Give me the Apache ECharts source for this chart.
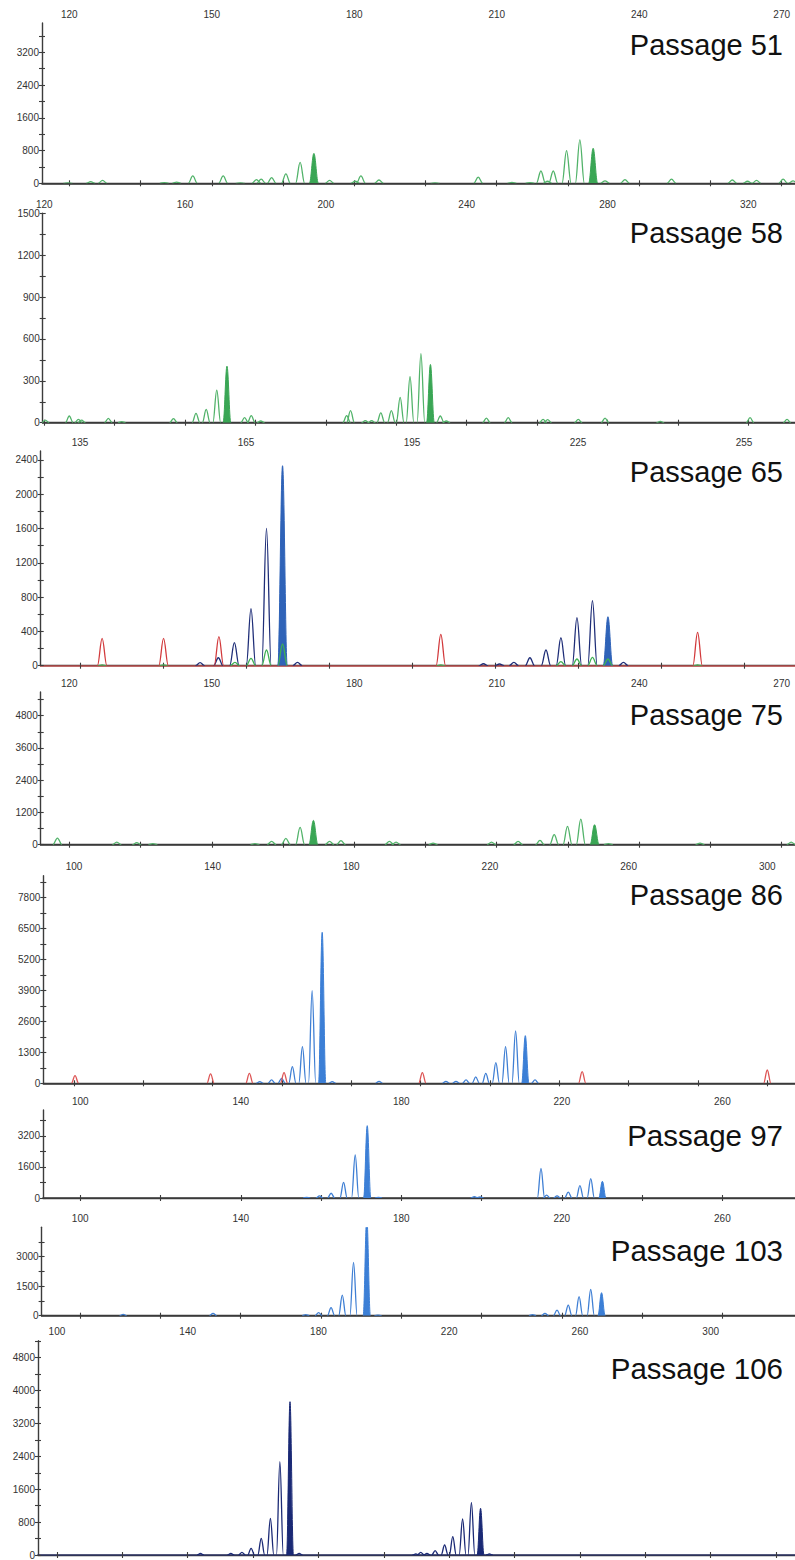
<!DOCTYPE html>
<html><head><meta charset="utf-8">
<script src="https://cdn.jsdelivr.net/npm/echarts@6/dist/echarts.min.js"></script>
<style>html,body{margin:0;padding:0;background:#fff}#c{width:795px;height:1560px}</style>
</head><body><div id="c"></div>
<script>
// ---------- DATA (fragment size in bp, peak height in RFU) ----------
const passageLabels = ['Passage 51','Passage 58','Passage 65','Passage 75','Passage 86','Passage 97','Passage 103','Passage 106'];

const p51Green = [[119.7,10],[124.5,40],[127,70],[140,15],[142.6,30],[146,180],[152.4,180],[156,10],[159.4,90],[160.4,100],[162.6,140],[165.6,230],[168.6,510],[174.8,70],[180.2,50],[181.4,180],[185.2,80],[197,10],[206.1,150],[213.2,20],[217,15],[219.3,300],[220.7,50],[221.9,300],[224.7,800],[227.5,1060],[232.8,60],[237,90],[246.8,100],[259.6,80],[262.8,50],[264.7,70],[270.3,100],[272.4,60]];
const p51GreenCalled = [[171.5,730],[230.3,855]];

const p58Green = [[120.3,19],[127.1,48],[129.7,24],[130.6,18],[138.2,31],[142,8],[156.7,29],[163.1,67],[166,95],[169,233],[176.9,36],[178.8,50],[181.5,12],[205.9,50],[207,86],[211.2,15],[213,15],[215.6,71],[218.6,86],[221.1,181],[223.9,329],[227,495],[232.5,48],[234.2,12],[245.6,33],[251.8,36],[261.7,24],[263,22],[271.7,24],[279.3,33],[295,10],[320.5,36],[331,24]];
const p58GreenCalled = [[171.9,405],[229.7,417]];

const p65Blue = [[156.7,35],[160,93],[162.9,268],[165.9,665],[168.7,1601],[174.3,39],[207.9,23],[210.8,20],[213.4,39],[216.3,93],[219.2,183],[221.9,326],[224.8,560],[227.6,758],[233.2,39]];
const p65BlueCalled = [[171.6,2332],[230.4,571]];
const p65Green = [[139,8],[150.1,8],[163,39],[165.9,86],[168.7,183],[171.6,253],[200.2,8],[221.9,47],[224.8,78],[227.6,97],[230.4,78],[246.6,8]];
const p65Red = [[139,319],[150.1,319],[160.1,338],[200.2,365],[246.6,389]];

const p75Green = [[117.5,248],[130,99],[134.2,74],[137.6,37],[159.1,37],[162.6,124],[165.6,236],[168.6,645],[174.8,124],[177.2,149],[187.4,124],[188.8,99],[196.6,62],[208.9,99],[214.5,124],[219.1,161],[222.1,372],[224.9,682],[227.7,955],[233.5,37],[252.8,62],[272,99]];
const p75GreenCalled = [[171.4,905],[230.6,744]];

const p86Blue = [[153.6,70],[157,140],[159.9,210],[163,700],[165.9,1541],[168.7,3895],[174.5,70],[188,84],[207.3,84],[210.2,84],[213.1,140],[215.9,266],[218.8,420],[221.7,869],[224.5,1541],[227.4,2200],[233,140]];
const p86BlueCalled = [[171.6,6346],[230.2,2003]];
const p86Red = [[100.3,322],[139.4,392],[150.6,420],[160.6,448],[200.5,448],[246.6,490],[300,560]];

const p97Blue = [[156.4,35],[159.6,106],[162.5,246],[165.6,810],[168.5,2218],[174.3,35],[198.2,70],[199.6,60],[214.8,1531],[216.2,150],[218.8,106],[221.6,300],[224.5,634],[227.2,1003]];
const p97BlueCalled = [[171.5,3731],[230.1,862]];

const p103Blue = [[110.7,68],[133.1,119],[156.2,51],[159.4,153],[162.5,407],[165.3,1051],[168.1,2712],[174.2,34],[212.7,51],[215.8,119],[218.8,288],[221.6,542],[224.3,966],[227.2,1339]];
const p103BlueCalled = [[171.4,5000],[229.9,1170]];

const p106Navy = [[143.9,40],[153.2,40],[156.6,65],[159.4,162],[162.5,405],[165.3,892],[168.2,2269],[174.1,40],[209.8,25],[211.3,65],[213.2,40],[215.7,105],[218.6,243],[221.1,446],[224.1,875],[226.8,1272],[232.3,25]];
const p106NavyCalled = [[171.3,3728],[229.6,1135]];

// axis ranges and tick labels
const xRanges = [[114.25,272.8],[119.55,333.27],[127.9,264.2],[113.98,272.8],[91.15,308],[90.7,278.1],[90.38,278.1],[94.2,325.8]];
const yMax = [3915,1500,2504,5682,8725,4540,4495,5211];
const xLabels = [
  [120,150,180,210,240,270],
  [120,160,200,240,280,320],
  [135,165,195,225,255],
  [120,150,180,210,240,270],
  [100,140,180,220,260,300],
  [100,140,180,220,260],
  [100,140,180,220,260],
  [100,140,180,220,260,300]
];
const xTicks = [
  [120,135,150,165,180,195,210,225,240,255,270],
  [120,140,160,180,200,220,240,260,280,300,320],
  [135,150,165,180,195,210,225,240,255],
  [120,135,150,165,180,195,210,225,240,255,270],
  [100,120,140,160,180,200,220,240,260,280,300],
  [100,120,140,160,180,200,220,240,260],
  [100,120,140,160,180,200,220,240,260],
  [100,120,140,160,180,200,220,240,260,280,300,320]
];
const yLabels = [
  [0,800,1600,2400,3200],
  [0,300,600,900,1200,1500],
  [0,400,800,1200,1600,2000,2400],
  [0,1200,2400,3600,4800],
  [0,1300,2600,3900,5200,6500,7800],
  [0,1600,3200],
  [0,1500,3000],
  [0,800,1600,2400,3200,4000,4800]
];
const yTicks = [
  [0,400,800,1200,1600,2000,2400,2800,3200,3600],
  [0,150,300,450,600,750,900,1050,1200,1350,1500],
  [0,200,400,600,800,1000,1200,1400,1600,1800,2000,2200,2400],
  [0,600,1200,1800,2400,3000,3600,4200,4800,5400],
  [0,650,1300,1950,2600,3250,3900,4550,5200,5850,6500,7150,7800,8450],
  [0,800,1600,2400,3200,4000],
  [0,750,1500,2250,3000,3750],
  [0,400,800,1200,1600,2000,2400,2800,3200,3600,4000,4400,4800,5200]
];

// ---------- LAYOUT & STYLE ----------
const grids = [
  {left:42, top:23, height:160.3},
  {left:42.7, top:213.3, height:209.4},
  {left:40.7, top:451, height:214.7},
  {left:40.7, top:692, height:152.7},
  {left:43.3, top:875.7, height:207.6},
  {left:43, top:1110, height:88},
  {left:41.6, top:1227.3, height:88.4},
  {left:38, top:1340.7, height:214.3}
];
const labelTops = [30,218,457,700,880,1120,1235,1353];
const labelSizes = [29,29,29,29,29,29.5,29.5,29.5];
const peakHalfWidth = [0.95,1.1,0.85,0.95,1.05,0.9,0.9,1.05];

const C = {
  green:'#52b36a', greenFill:'#3aa655',
  navy:'#1f2e78', blueFill:'#2f63b8',
  red:'#d23a3c', green3:'#3fb054',
  blue:'#3f7fd4', blueF:'#3c7fd6',
  red5:'#dd5555',
  navy8:'#1a2975'
};

const panelSeries = [
  [[p51Green,C.green,false],[p51GreenCalled,C.greenFill,true]],
  [[p58Green,C.green,false],[p58GreenCalled,C.greenFill,true]],
  [[p65Blue,C.navy,false],[p65BlueCalled,C.blueFill,true],[p65Green,C.green3,false],[p65Red,C.red,false]],
  [[p75Green,C.green,false],[p75GreenCalled,C.greenFill,true]],
  [[p86Blue,C.blue,false],[p86BlueCalled,C.blueF,true],[p86Red,C.red5,false]],
  [[p97Blue,C.blue,false],[p97BlueCalled,C.blueF,true]],
  [[p103Blue,C.blue,false],[p103BlueCalled,C.blueF,true]],
  [[p106Navy,C.navy8,false],[p106NavyCalled,C.navy8,true]]
];
const baselineColors = ['#3a3a3a','#3a3a3a','#b84a48','#3a3a3a','#3a3a3a','#3a3a3a','#3a3a3a','#2a3060'];

const axisColor = '#3c3c3c';
const labelStyle = {color:'#333', fontSize:10, fontFamily:'"Liberation Sans", Arial, sans-serif', formatter:function(v){return String(v);}};

const option = {
  animation:false,
  backgroundColor:'#fff',
  grid:[], xAxis:[], yAxis:[], series:[], graphic:[]
};

grids.forEach((g,i)=>{
  option.grid.push({left:g.left, top:g.top, right:0, height:g.height});
  const [xmin,xmax] = xRanges[i];
  const baseX = {type:'value', gridIndex:i, min:xmin, max:xmax, splitLine:{show:false}};
  option.xAxis.push(Object.assign({}, baseX, {
    position:'top',
    axisLine:{show:true, lineStyle:{color:axisColor, width:1.4}},
    axisTick:{show:true, inside:false, length:3, customValues:xTicks[i], lineStyle:{color:axisColor, width:1.1}},
    axisLabel:Object.assign({show:true, margin:4, customValues:xLabels[i]}, labelStyle)
  }));
  option.xAxis.push(Object.assign({}, baseX, {
    position:'top',
    axisLine:{show:false},
    axisTick:{show:true, inside:true, length:3, customValues:xTicks[i], lineStyle:{color:axisColor, width:1.1}},
    axisLabel:{show:false}
  }));
  option.xAxis.push(Object.assign({}, baseX, {
    position:'bottom',
    axisLine:{show:true, onZero:false, lineStyle:{color:baselineColors[i], width:1.5}},
    axisTick:{show:false}, axisLabel:{show:false}
  }));
  const baseY = {type:'value', gridIndex:i, min:0, max:yMax[i], splitLine:{show:false}};
  option.yAxis.push(Object.assign({}, baseY, {
    position:'left',
    axisLine:{show:true, lineStyle:{color:axisColor, width:1.4}},
    axisTick:{show:true, inside:false, length:3, customValues:yTicks[i], lineStyle:{color:axisColor, width:1.1}},
    axisLabel:Object.assign({show:true, margin:3, customValues:yLabels[i]}, labelStyle)
  }));
  option.yAxis.push(Object.assign({}, baseY, {
    position:'left',
    axisLine:{show:false},
    axisTick:{show:true, inside:true, length:3, customValues:yTicks[i], lineStyle:{color:axisColor, width:1.1}},
    axisLabel:{show:false}
  }));

  const hw = peakHalfWidth[i];
  panelSeries[i].forEach(([data,color,filled],k)=>{
    option.series.push({
      type:'custom', xAxisIndex:i*3, yAxisIndex:i*2, data:data, clip:true, silent:true, z:2+k,
      encode:{x:0, y:1},
      renderItem:function(params, api){
        const pos = api.value(0), h = api.value(1);
        const t = api.coord([pos, h]);
        const l = api.coord([pos - hw, 0]);
        const r = api.coord([pos + hw, 0]);
        const x = t[0], yt = t[1], y0 = l[1], dx = x - l[0];
        const d = 'M' + l[0] + ',' + y0 +
          ' C' + (x - 0.62*dx) + ',' + y0 + ' ' + (x - 0.38*dx) + ',' + yt + ' ' + x + ',' + yt +
          ' C' + (x + 0.38*dx) + ',' + yt + ' ' + (x + 0.62*dx) + ',' + y0 + ' ' + r[0] + ',' + y0;
        return {
          type:'path', shape:{pathData:d},
          style: filled ? {fill:color, stroke:color, lineWidth:1} : {fill:'none', stroke:color, lineWidth:1.3}
        };
      }
    });
  });

  option.graphic.push({
    type:'text', right:12, top:labelTops[i], z:10,
    style:{text:passageLabels[i], fill:'#111', font:'normal ' + labelSizes[i] + 'px "Liberation Sans", Arial, sans-serif'}
  });
});

const chart = echarts.init(document.getElementById('c'), null, {renderer:'svg', width:795, height:1560});
chart.setOption(option);
</script>
</body></html>
